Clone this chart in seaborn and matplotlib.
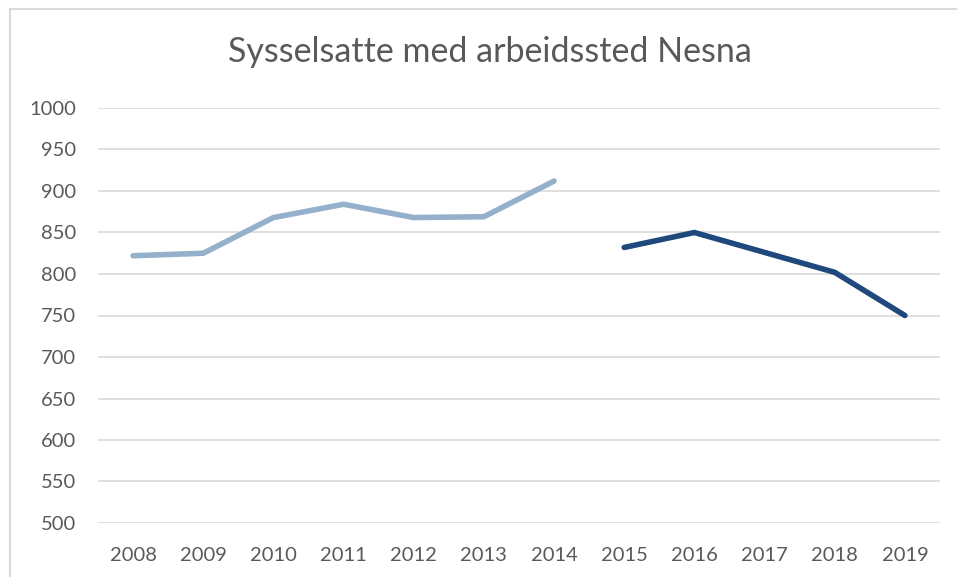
import matplotlib
matplotlib.use("Agg")
import matplotlib.pyplot as plt
from matplotlib.patches import Rectangle
import seaborn as sns
import pandas as pd

years_a = [2008, 2009, 2010, 2011, 2012, 2013, 2014]
values_a = [822, 825, 868, 884, 868, 869, 912]
years_b = [2015, 2016, 2017, 2018, 2019]
values_b = [832, 850, 826, 802, 750]
yticks = [500, 550, 600, 650, 700, 750, 800, 850, 900, 950, 1000]
title = "Sysselsatte med arbeidssted Nesna"

df = pd.DataFrame({
    "year": years_a + years_b,
    "value": values_a + values_b,
    "series": ["a"] * len(years_a) + ["b"] * len(years_b),
})

sns.set_theme(style="white")
plt.rcParams["font.family"] = ["Lato", "DejaVu Sans"]
txt = "#595959"

fig = plt.figure(figsize=(9.57, 5.77), dpi=100)
ax = fig.add_axes([98/957, 1 - 523/577, (940 - 98)/957, (523 - 108)/577])

sns.lineplot(data=df, x="year", y="value", hue="series",
             palette={"a": "#94B0CB", "b": "#1F497D"},
             linewidth=4.0, legend=False, ax=ax,
             solid_capstyle="round", solid_joinstyle="miter")

ax.set_xlim(2007.5, 2019.5)
ax.set_ylim(500, 1000)
ax.set_yticks(yticks)
ax.set_xticks(years_a + years_b)
ax.set_xticklabels([str(y) for y in years_a + years_b])
ax.yaxis.grid(True, color="#D9D9D9", linewidth=1.2)
ax.xaxis.grid(False)
ax.set_axisbelow(True)
for s in ax.spines.values():
    s.set_visible(False)
ax.tick_params(axis="both", length=0, labelsize=14.5, colors=txt)
ax.tick_params(axis="y", pad=16)
ax.tick_params(axis="x", pad=17)
ax.set_xlabel("")
ax.set_ylabel("")

fig.text(490/957, 1 - 52/577, title, ha="center", va="center",
         fontsize=24.5, color=txt)

fig.patches.append(Rectangle((10/957, -0.05), 1.0, 1 - 9/577 + 0.05,
                             transform=fig.transFigure, fill=False,
                             edgecolor="#D9D9D9", linewidth=1.5))

fig.savefig("out.png", dpi=100)
